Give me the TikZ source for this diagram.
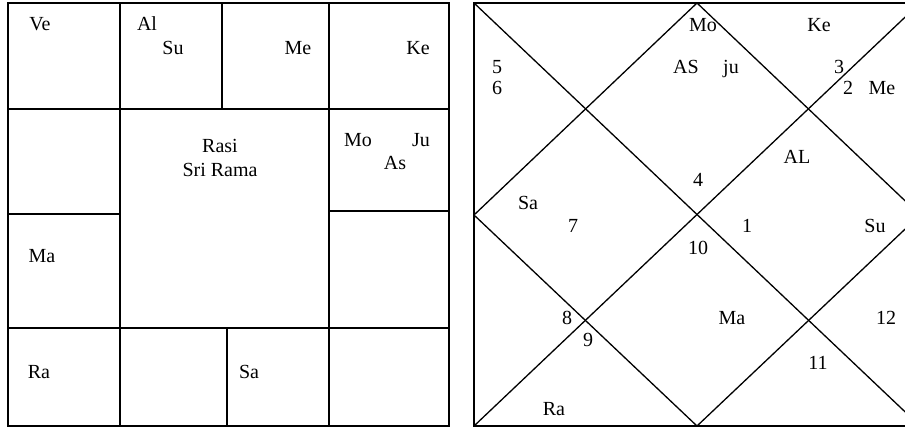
\documentclass[tikz,border=0pt]{standalone}
\usepackage{fontspec}
\setmainfont{Liberation Serif}
\usetikzlibrary{positioning}
\definecolor{RSInk}{HTML}{000000}
\definecolor{RSPaper}{HTML}{FFFFFF}
\tikzset{
  chartframe/.style={draw=RSInk,line width=2.0pt},
  chartline/.style={draw=RSInk,line width=1.7pt},
  diagline/.style={draw=RSInk,line width=1.3pt},
  planet/.style={text=RSInk,font=\fontsize{20}{24}\selectfont,inner sep=0pt,anchor=base},
  housenum/.style={planet},
  chartname/.style={planet},
}

\begin{document}
\begin{tikzpicture}[x=1pt,y=-1pt]
    \useasboundingbox (0,0) rectangle (905,427);
    \clip (0,0) rectangle (905,427);
    \fill[RSPaper] (0,0) rectangle (905,427);

    % south chart
    \draw[chartframe] (8,3) rectangle (449,426);
    \draw[chartline] (8,109)--(449,109) (8,328)--(449,328);
    \draw[chartline] (8,214)--(120,214) (329,211)--(449,211);
    \draw[chartline] (120,3)--(120,426) (329,3)--(329,426);
    \draw[chartline] (222,3)--(222,109) (227,328)--(227,426);

    \node[planet] (sVe) at (40,31) {Ve};
    \node[planet] (sAl) at (147,31) {Al};
    \node[planet] (sSu) at (173,55) {Su};
    \node[planet] (sMe) at (298,55) {Me};
    \node[planet] (sKe) at (418,55) {Ke};
    \node[chartname] (sRasi) at (220,153) {Rasi};
    \node[chartname] (sName) at (220,177) {Sri Rama};
    \node[planet] (sMo) at (358,147) {Mo};
    \node[planet] (sJu) at (421,147) {Ju};
    \node[planet] (sAs) at (395,170) {As};
    \node[planet] (sMa) at (42,263) {Ma};
    \node[planet] (sRa) at (39,379) {Ra};
    \node[planet] (sSa) at (249,379) {Sa};

    % north chart
    \coordinate (nTL) at (474,3);
    \coordinate (nTR) at (920,3);
    \coordinate (nBL) at (474,426);
    \coordinate (nBR) at (920,426);
    \coordinate (nTop) at (697,3);
    \coordinate (nLeft) at (474,215);
    \coordinate (nBot) at (697,426);
    \coordinate (nRight) at (920,215);
    \draw[chartframe] (nTL) rectangle (nBR);
    \draw[diagline] (nTL)--(nBR) (nBL)--(nTR);
    \draw[diagline] (nTop)--(nLeft)--(nBot)--(nRight)--cycle;

    \foreach \nm/\num/\x/\y in {h1/1/747/233,h2/2/848/95,h3/3/839/74,h4/4/698/187,
                                h5/5/497/74,h6/6/497/95,h7/7/573/233,h8/8/567/325,
                                h9/9/588/347,h10/10/698/255,h11/11/818/370,h12/12/886/325}{
      \node[housenum] (\nm) at (\x,\y) {\num};
    }
    \node[planet] (nMo) at (703,32) {Mo};
    \node[planet] (nKe) at (819,32) {Ke};
    \node[planet] (nAS) at (686,74) {AS};
    \node[planet] (nju) at (731,74) {ju};
    \node[planet] (nMe) at (882,95) {Me};
    \node[planet] (nAL) at (797,164) {AL};
    \node[planet] (nSa) at (528,210) {Sa};
    \node[planet] (nSu) at (875,233) {Su};
    \node[planet] (nMa) at (732,325) {Ma};
    \node[planet] (nRa) at (554,416) {Ra};
\end{tikzpicture}
\end{document}
